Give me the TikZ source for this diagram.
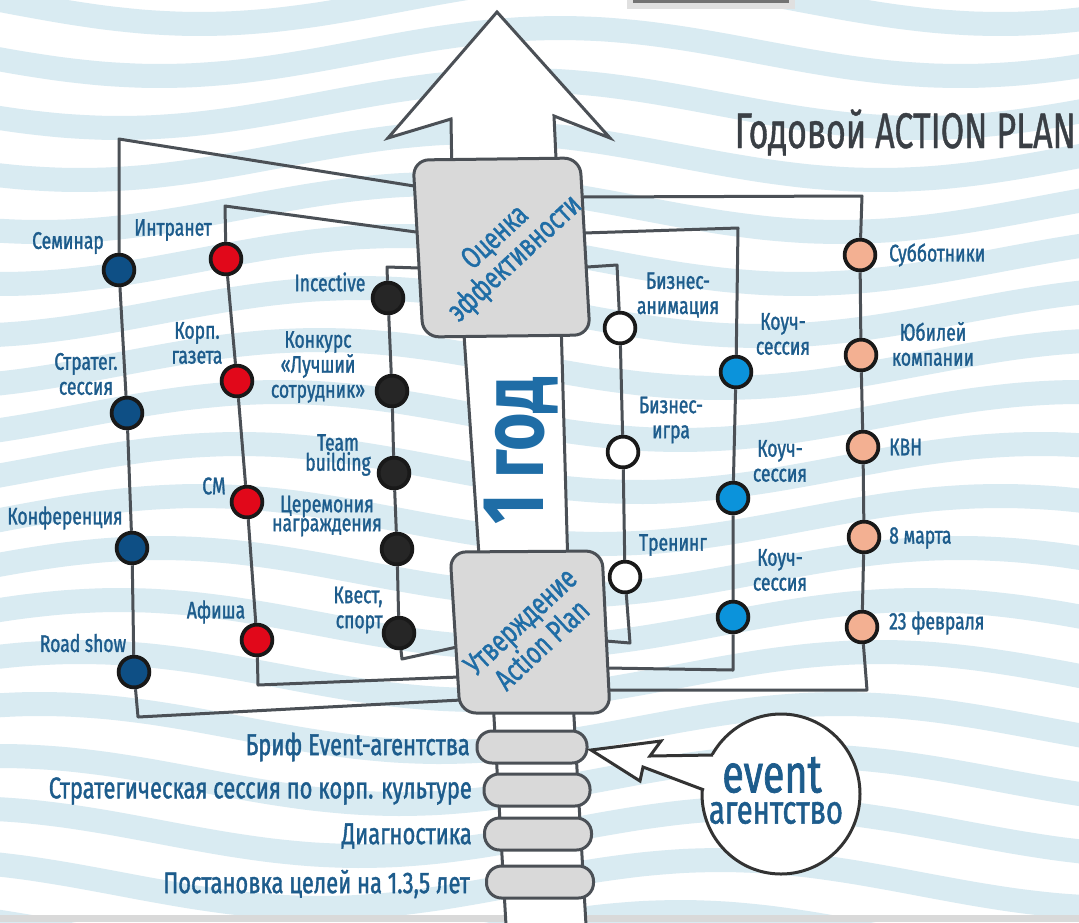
\documentclass[tikz,border=0pt]{standalone}
\usepackage{fontspec}
\setmainfont{Fira Sans}[FakeStretch=0.73, FakeBold=1.3]
\newfontfamily\titlefont{Fira Sans}[FakeStretch=0.68, FakeBold=0.8]
\newfontfamily\yearfont{Fira Sans}[FakeStretch=0.75]
\usetikzlibrary{shapes.geometric}
\definecolor{lbl}{HTML}{1D5C8C}
\definecolor{boxtxt}{HTML}{1F6DA6}
\definecolor{lnc}{HTML}{4B5056}
\definecolor{wavec}{HTML}{D9EBF2}
\definecolor{cA}{HTML}{0E4F85}
\definecolor{cB}{HTML}{E1081A}
\definecolor{cC}{HTML}{262626}
\definecolor{cE}{HTML}{0B93DB}
\definecolor{cF}{HTML}{F3B092}
\definecolor{boxfill}{HTML}{D9D9D9}
\definecolor{titlec}{HTML}{3A3F45}
\begin{document}
\begin{tikzpicture}[x=1pt,y=-1pt,
  connline/.style={draw=lnc, line width=3pt, line join=round},
  dot/.style={circle, draw=black!90, line width=2.5pt, minimum size=32pt, inner sep=0pt},
  lab/.style={text=lbl, font=\fontsize{24}{25}\selectfont, align=center, inner sep=0pt},
  tlab/.style={text=lbl, font=\fontsize{24}{19}\selectfont, align=center, inner sep=0pt},
  blab/.style={text=lbl, font=\fontsize{30}{30}\selectfont, anchor=east, inner sep=0pt},
  boxshape/.style={draw=lnc, fill=boxfill, line width=3pt, rounded corners=16pt},
  boxlab/.style={text=boxtxt, font=\fontsize{31}{29}\selectfont, align=center, inner sep=0pt, rotate=43},
  pill/.style={draw=lnc, fill=boxfill, line width=3pt, rounded corners=15pt, minimum height=32pt, inner sep=0pt},
  shaft/.style={draw=lnc, line width=3pt}
]
\useasboundingbox (0,0) rectangle (1079,922);
\clip (0,0) rectangle (1079,922);
\fill[white] (0,0) rectangle (1079,922);
% background waves
\foreach \k in {-2,...,19}{
  \draw[line width=24pt, draw=wavec] plot[smooth, domain=-60:1140, samples=30] (\x, {\k*52 + 24*sin(0.45*\x + 18*\k)});
}
% top tab and bottom strip
\fill[black!12] (627,0) rectangle (795,9);
\fill[black!55] (633,0) rectangle (789,3);
\fill[black!15] (0,915) rectangle (1079,922);

% big arrow head
\draw[shaft, fill=white, line join=miter] (497,12) -- (610,138) -- (554,116) -- (557,180) -- (452,180) -- (451,119) -- (388,138) -- cycle;
% shaft between boxes
\fill[white] (463,320) -- (480,570) -- (568,570) -- (561,320) -- cycle;
\draw[shaft] (463,320) -- (480,570);
\draw[shaft] (561,320) -- (568,570);
% spine below
\fill[white] (493,700) -- (506,925) -- (586,925) -- (573,700) -- cycle;
\draw[shaft] (493,700) -- (506,925);
\draw[shaft] (573,700) -- (586,925);

% coordinates on boxes
\coordinate (uL1) at (414,186); \coordinate (uL2) at (416,232); \coordinate (uL3) at (419,268);
\coordinate (uR6) at (582,197); \coordinate (uR5) at (584,233); \coordinate (uR4) at (587,267);
\coordinate (lL3) at (457,647); \coordinate (lL2) at (459,677); \coordinate (lL1) at (461,700);
\coordinate (lR4) at (606,641); \coordinate (lR5) at (607,668); \coordinate (lR6) at (608,690);
\coordinate (t1) at (119,139); \coordinate (t2) at (225,206); \coordinate (t3) at (387,267);
\coordinate (t4) at (617,265); \coordinate (t5) at (738,228); \coordinate (t6) at (862,196);
\coordinate (e1) at (138,717); \coordinate (e2) at (258,685); \coordinate (e3) at (402,659);
\coordinate (e4) at (630,643); \coordinate (e5) at (733,670); \coordinate (e6) at (867,690);

% circles
\node[dot, fill=cA] (s1) at (119,270) {};
\node[dot, fill=cA] (s2) at (127,413) {};
\node[dot, fill=cA] (s3) at (132,548) {};
\node[dot, fill=cA] (s4) at (134,672) {};
\node[dot, fill=cB] (r1) at (226,259) {};
\node[dot, fill=cB] (r2) at (237,381) {};
\node[dot, fill=cB] (r3) at (247,502) {};
\node[dot, fill=cB] (r4) at (257,640) {};
\node[dot, fill=cC] (k1) at (388,298) {};
\node[dot, fill=cC] (k2) at (392,391) {};
\node[dot, fill=cC] (k3) at (394,473) {};
\node[dot, fill=cC] (k4) at (397,549) {};
\node[dot, fill=cC] (k5) at (399,633) {};
\node[dot, fill=white] (w1) at (620,328) {};
\node[dot, fill=white] (w2) at (623,452) {};
\node[dot, fill=white] (w3) at (625,577) {};
\node[dot, fill=cE] (b1) at (736,372) {};
\node[dot, fill=cE] (b2) at (733,498) {};
\node[dot, fill=cE] (b3) at (733,617) {};
\node[dot, fill=cF] (p1) at (860,255) {};
\node[dot, fill=cF] (p2) at (861,355) {};
\node[dot, fill=cF] (p3) at (863,447) {};
\node[dot, fill=cF] (p4) at (864,537) {};
\node[dot, fill=cF] (p5) at (862,627) {};

% connectors
\draw[connline] (uL1) -- (t1) -- (s1) -- (s2) -- (s3) -- (s4) -- (e1) -- (lL1);
\draw[connline] (uL2) -- (t2) -- (r1) -- (r2) -- (r3) -- (r4) -- (e2) -- (lL2);
\draw[connline] (uL3) -- (t3) -- (k1) -- (k2) -- (k3) -- (k4) -- (k5) -- (e3) -- (lL3);
\draw[connline] (uR4) -- (t4) -- (w1) -- (w2) -- (w3) -- (e4) -- (lR4);
\draw[connline] (uR5) -- (t5) -- (b1) -- (b2) -- (b3) -- (e5) -- (lR5);
\draw[connline] (uR6) -- (t6) -- (p1) -- (p2) -- (p3) -- (p4) -- (p5) -- (e6) -- (lR6);
% redraw circles over lines
\foreach \n/\c in {s1/cA,s2/cA,s3/cA,s4/cA,r1/cB,r2/cB,r3/cB,r4/cB,k1/cC,k2/cC,k3/cC,k4/cC,k5/cC,w1/white,w2/white,w3/white,b1/cE,b2/cE,b3/cE,p1/cF,p2/cF,p3/cF,p4/cF,p5/cF}{
  \draw[line width=2.5pt, draw=black!90, fill=\c] (\n.center) circle (14.75pt);
}

% boxes
\draw[boxshape] (413,160) -- (580,158) -- (590,335) -- (423,337) -- cycle;
\draw[boxshape] (450,552) -- (602,551) -- (610,713) -- (460,713) -- cycle;
\node[boxlab] (ocenka) at (506,249) {Оценка\\эффективности};
\node[boxlab] (utv) at (531,633) {Утверждение\\Action Plan};
\node[text=boxtxt, font=\yearfont\bfseries\fontsize{88}{88}\selectfont, rotate=90, inner sep=0pt] (god) at (521,451) {1 год};

% pills
\node[pill, minimum width=110pt] (v1) at (532,747) {};
\node[pill, minimum width=106pt] (v2) at (537,790) {};
\node[pill, minimum width=107pt] (v3) at (538,834) {};
\node[pill, minimum width=107pt] (v4) at (540,882) {};
\node[blab] (bl1) at (470,747) {Бриф Event-агентства};
\node[blab] (bl2) at (472,791) {Стратегическая сессия по корп. культуре};
\node[blab] (bl3) at (472,836) {Диагностика};
\node[blab] (bl4) at (470,884) {Постановка целей на 1.3,5 лет};

% bubble
\node[ellipse, draw=black!80, fill=white, line width=3pt, minimum width=158pt, minimum height=160pt] (bubble) at (781,794) {};
\fill[white] (716,755) -- (650,756) -- (661,741) -- (591,750) -- (640,781) -- (643,767) -- (708,790) -- cycle;
\draw[draw=black!80, line width=3pt, line join=miter] (713,755) -- (650,756) -- (661,741) -- (591,750) -- (640,781) -- (643,767) -- (704,790);
\node[text=lbl, font=\fontsize{54}{54}\selectfont, inner sep=0pt] (ev) at (772,775) {event};
\node[text=lbl, font=\fontsize{40}{40}\selectfont, inner sep=0pt] (ag) at (776,813) {агентство};

% title
\node[text=titlec, font=\titlefont\fontsize{50}{50}\selectfont, anchor=base east, inner sep=0pt] (title) at (1076,148) {Годовой ACTION PLAN};

% labels column 1
\node[lab, anchor=east] (ls1) at (104,243) {Семинар};
\node[lab] (ls2) at (86,374) {Стратег.\\сессия};
\node[lab] (ls3) at (65,518) {Конференция};
\node[lab] (ls4) at (83,643) {Road show};
% column 2
\node[lab] (lr1) at (173,230) {Интранет};
\node[lab] (lr2) at (197,343) {Корп.\\газета};
\node[lab] (lr3) at (214,486) {СМ};
\node[lab] (lr4) at (216,612) {Афиша};
% column 3
\node[lab] (lk1) at (330,282) {Incective};
\node[lab] (lk2) at (318,367) {Конкурс\\«Лучший\\сотрудник»};
\node[tlab] (lk3) at (338,455) {Team\\building};
\node[tlab] (lk4) at (327,516) {Церемония\\награждения};
\node[lab, align=right] (lk5) at (358,610) {Квест,\\спорт};
% column 4
\node[lab] (lw1) at (678,295) {Бизнес-\\анимация};
\node[lab] (lw2) at (671,420) {Бизнес-\\игра};
\node[lab] (lw3) at (673,545) {Тренинг};
% column 5
\node[lab] (lb1) at (783,334) {Коуч-\\сессия};
\node[lab] (lb2) at (780,461) {Коуч-\\сессия};
\node[lab] (lb3) at (780,570) {Коуч-\\сессия};
% column 6
\node[lab, anchor=west] (lp1) at (889,255) {Субботники};
\node[lab] (lp2) at (933,344) {Юбилей\\компании};
\node[lab, anchor=west] (lp3) at (889,447) {КВН};
\node[lab, anchor=west] (lp4) at (889,538) {8 марта};
\node[lab, anchor=west] (lp5) at (889,623) {23 февраля};
\end{tikzpicture}
\end{document}
